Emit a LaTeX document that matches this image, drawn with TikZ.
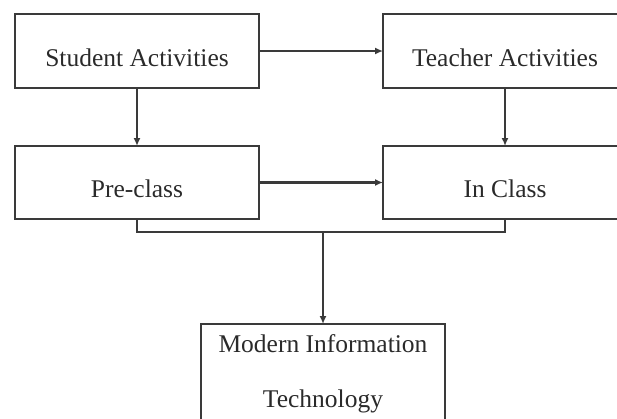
\documentclass[tikz,border=0pt]{standalone}
\usepackage{fontspec}
\setmainfont{Liberation Serif}
\usetikzlibrary{arrows.meta}
\definecolor{ln}{HTML}{3A3A3A}
\definecolor{tx}{HTML}{2A2A2A}
\begin{document}
\begin{tikzpicture}[x=1pt,y=-1pt,
  box/.style={draw=ln, line width=2.2pt, minimum width=244pt, minimum height=74pt,
    inner sep=0pt, outer sep=0pt, font=\fontsize{25.5}{30}\selectfont, text=tx,
    text height=30pt, text depth=0pt},
  txt/.style={inner sep=0pt, font=\fontsize{25.5}{30}\selectfont, text=tx, anchor=base},
  conn/.style={draw=ln, line width=2.2pt, -{Latex[length=8pt,width=7pt]}},
  plain/.style={draw=ln, line width=2.2pt}]
\useasboundingbox (0,0) rectangle (617,418);
\clip (0,0) rectangle (617,418);
\node[box] (sa) at (137,51) {Student Activities};
\node[box] (ta) at (505,51) {Teacher Activities};
\node[box, minimum height=73pt] (pc) at (137,182.5) {Pre-class};
\node[box, minimum height=73pt] (ic) at (505,182.5) {In Class};
\node[box, minimum height=130pt, anchor=north] (mit) at (323,324) {};
\node[txt] (mit1) at (323,352) {Modern Information};
\node[txt] (mit2) at (323,407) {Technology};
\coordinate (j) at (323,232);
\draw[conn] (sa) -- (ta);
\draw[conn] (sa) -- (pc);
\draw[conn] (ta) -- (ic);
\draw[conn] (pc) -- (ic);
\draw[plain] (pc.south) |- (j) -| (ic.south);
\draw[conn] (j) -- (mit.north);
\end{tikzpicture}
\end{document}
